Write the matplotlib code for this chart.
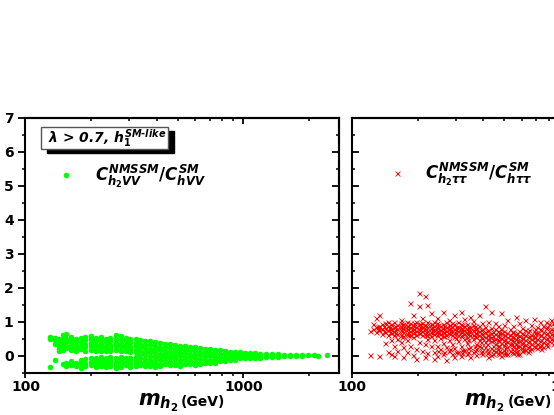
import numpy as np
import matplotlib.pyplot as plt
from matplotlib.patches import Rectangle

#---------------------------------------------- DATA -------------------------------------------
# m_h2 (GeV) columns and the coupling ratios read in each column
green_mass = [130, 136, 142, 148, 154, 161, 170, 179, 188, 199, 210, 221, 233, 245, 259,
              273, 288, 303, 320, 337, 355, 374, 395, 416, 439, 463, 488, 514, 542, 571,
              602, 635, 669, 706, 744, 784, 827, 872, 919, 969, 1021, 1077, 1135, 1197,
              1275, 1358, 1447, 1542, 1643, 1750, 1865, 1987, 2117, 2208, 2428]
green_vals = [
    [0.55, 0.50, -0.32],
    [0.52, 0.45, 0.35, -0.12],
    [0.50, 0.40, 0.30, 0.20, 0.14],
    [0.60, 0.48, 0.38, 0.27, 0.17, -0.25],
    [0.64, 0.50, 0.40, 0.30, 0.22, -0.22, -0.30],
    [0.55, 0.45, 0.35, 0.25, 0.18, -0.15, -0.28],
    [0.50, 0.42, 0.33, 0.22, 0.15, -0.20, -0.30],
    [0.52, 0.40, 0.30, 0.20, -0.12, -0.22, -0.35],
    [0.55, 0.45, 0.35, 0.25, 0.15, -0.10, -0.20, -0.30],
    [0.58, 0.48, 0.38, 0.28, 0.18, -0.08, -0.18, -0.28],
    [0.52, 0.42, 0.32, 0.22, 0.14, -0.06, -0.15, -0.25, -0.33],
    [0.55, 0.45, 0.35, 0.25, 0.15, -0.05, -0.10, -0.20, -0.30],
    [0.50, 0.40, 0.30, 0.20, 0.13, -0.06, -0.15, -0.25, -0.32],
    [0.52, 0.42, 0.32, 0.22, 0.14, -0.05, -0.12, -0.22, -0.30],
    [0.62, 0.48, 0.38, 0.28, 0.18, -0.08, -0.18, -0.28, -0.35],
    [0.58, 0.45, 0.35, 0.25, 0.15, -0.05, -0.12, -0.22, -0.32],
    [0.52, 0.42, 0.32, 0.22, 0.13, -0.08, -0.18, -0.28],
    [0.50, 0.40, 0.30, 0.20, 0.12, -0.06, -0.15, -0.25, -0.33],
    [0.48, 0.38, 0.28, 0.18, 0.10, -0.05, -0.12, -0.22, -0.30],
    [0.45, 0.35, 0.25, 0.15, 0.05, -0.08, -0.18, -0.28],
    [0.44, 0.33, 0.22, 0.12, 0.02, -0.10, -0.20, -0.30],
    [0.42, 0.31, 0.20, 0.10, -0.02, -0.12, -0.22, -0.30],
    [0.40, 0.29, 0.18, 0.08, -0.05, -0.15, -0.25, -0.32],
    [0.38, 0.27, 0.16, 0.06, -0.04, -0.14, -0.24, -0.30],
    [0.36, 0.26, 0.15, 0.05, -0.05, -0.15, -0.25],
    [0.34, 0.23, 0.12, 0.02, -0.08, -0.18, -0.28],
    [0.32, 0.21, 0.10, 0.00, -0.10, -0.20, -0.28],
    [0.30, 0.19, 0.08, -0.02, -0.12, -0.22, -0.30],
    [0.28, 0.17, 0.07, -0.03, -0.13, -0.23],
    [0.27, 0.16, 0.05, -0.05, -0.15, -0.25],
    [0.25, 0.14, 0.03, -0.08, -0.18, -0.26],
    [0.23, 0.12, 0.01, -0.10, -0.20, -0.25],
    [0.21, 0.10, -0.01, -0.12, -0.21],
    [0.19, 0.09, -0.02, -0.12, -0.20],
    [0.17, 0.07, -0.04, -0.14, -0.20],
    [0.16, 0.05, -0.05, -0.15],
    [0.14, 0.04, -0.06, -0.15],
    [0.12, 0.03, -0.06, -0.12],
    [0.11, 0.02, -0.07, -0.12],
    [0.10, 0.01, -0.08],
    [0.09, 0.00, -0.08],
    [0.08, 0.00, -0.07],
    [0.07, -0.01, -0.07],
    [0.06, -0.02, -0.06],
    [0.05, -0.02, -0.05],
    [0.05, -0.01, -0.04],
    [0.04, 0.00, -0.03],
    [0.03, -0.02],
    [0.03, -0.01],
    [0.02, -0.01],
    [0.02, 0.00],
    [0.01],
    [0.01],
    [0.00],
    [0.02],
]

red_mass = [121, 125, 129, 133, 138, 142, 147, 151, 156, 161, 167, 172, 178, 184, 190,
            196, 203, 209, 216, 222, 230, 237, 245, 253, 261, 269, 278, 287, 295, 305,
            316, 326, 337, 348, 359, 371, 383, 396, 409, 422, 435, 451, 466, 481, 497,
            514, 531, 549, 565, 583, 600, 621, 641, 661, 683, 704, 727, 750, 774, 798,
            823, 850]
red_vals = [
    [0.02, 0.72],
    [0.80, 0.92],
    [0.70, 0.85, 1.12],
    [0.75, 0.88, 1.20, 0.00],
    [0.65, 0.78, 0.92],
    [0.70, 0.82, 0.95, 0.38],
    [0.62, 0.75, 0.88, 1.00, 0.12],
    [0.68, 0.80, 0.92, 0.05, 0.45],
    [0.60, 0.72, 0.85, 0.98, 0.30, 0.00],
    [0.65, 0.78, 0.90, 0.50, 0.15],
    [0.62, 0.75, 0.85, 0.95, 1.05, 0.40],
    [0.58, 0.70, 0.82, 0.92, 0.25, -0.05],
    [0.65, 0.78, 0.88, 1.00, 0.45, 0.10],
    [0.60, 0.72, 0.84, 0.95, 1.55, 0.30],
    [0.66, 0.78, 0.90, 1.20, 0.55, 0.02],
    [0.62, 0.74, 0.86, 0.98, 0.20, -0.10],
    [0.68, 0.80, 0.92, 1.45, 1.85, 0.40],
    [0.60, 0.72, 0.84, 0.95, 1.10, 0.15],
    [0.65, 0.78, 0.90, 1.75, 0.35, -0.05],
    [0.62, 0.74, 0.86, 0.98, 1.50, 0.50, 0.08],
    [0.58, 0.70, 0.82, 0.94, 1.25, 0.28],
    [0.65, 0.76, 0.88, 1.00, 0.45, 0.12, -0.10],
    [0.60, 0.72, 0.84, 0.96, 1.12, 0.30, 0.00],
    [0.64, 0.76, 0.88, 0.52, 0.20],
    [0.58, 0.70, 0.82, 0.94, 1.30, 0.38, 0.05],
    [0.62, 0.74, 0.86, 0.98, 0.25, -0.12],
    [0.66, 0.78, 0.90, 1.05, 0.45, 0.15],
    [0.60, 0.72, 0.84, 0.96, 0.35, 0.05],
    [0.56, 0.68, 0.80, 0.92, 1.20, 0.22, -0.05],
    [0.62, 0.74, 0.86, 1.00, 0.42, 0.10],
    [0.58, 0.70, 0.82, 0.94, 1.30, 0.30, 0.00],
    [0.50, 0.64, 0.76, 0.88, 1.08, 0.18],
    [0.56, 0.68, 0.80, 0.92, 0.38, 0.05],
    [0.60, 0.72, 0.84, 1.15, 0.25, -0.05],
    [0.48, 0.62, 0.76, 0.90, 1.02, 0.12],
    [0.55, 0.68, 0.80, 0.35, 0.20, 0.02],
    [0.45, 0.60, 0.74, 0.88, 1.20, 0.28],
    [0.52, 0.65, 0.78, 0.95, 0.15, 0.05],
    [0.40, 0.56, 0.70, 0.84, 1.45, 0.25],
    [0.48, 0.62, 0.76, 1.00, 0.10, -0.05],
    [0.42, 0.55, 0.68, 0.82, 1.30, 0.22, 0.02],
    [0.36, 0.50, 0.64, 0.78, 0.95, 0.15],
    [0.30, 0.45, 0.60, 0.74, 0.88, 0.08, 0.20],
    [0.38, 0.52, 0.66, 0.80, 1.25, 0.12, 0.00],
    [0.32, 0.46, 0.60, 0.74, 0.90, 0.18],
    [0.26, 0.40, 0.54, 0.68, 1.05, 0.05],
    [0.35, 0.48, 0.62, 0.78, 0.15],
    [0.28, 0.42, 0.56, 0.70, 0.88, 0.08],
    [0.22, 0.36, 0.50, 0.64, 1.15, 0.12],
    [0.30, 0.44, 0.58, 0.72, 0.95, 0.05],
    [0.24, 0.38, 0.52, 0.66, 0.82, 0.15],
    [0.18, 0.32, 0.46, 0.60, 0.76, 1.05],
    [0.26, 0.40, 0.54, 0.70, 0.12],
    [0.20, 0.34, 0.48, 0.62, 0.90],
    [0.28, 0.42, 0.56, 0.72, 1.08],
    [0.22, 0.36, 0.50, 0.66, 0.85],
    [0.30, 0.44, 0.60, 0.78, 0.98],
    [0.25, 0.40, 0.55, 0.70, 0.88],
    [0.35, 0.50, 0.65, 0.82, 1.00],
    [0.42, 0.58, 0.74, 0.92],
    [0.48, 0.64, 0.80, 1.05],
    [0.55, 0.70, 0.88],
]

# denser core of the tau-tau cloud, between the columns above
red_core_mass = [131, 140, 149, 158, 169, 181, 193, 206, 219, 233, 249, 265, 282, 300, 321,
                 342, 365, 389, 415, 443, 474, 505, 540, 574, 610, 651, 693, 738, 786, 836]
red_core_vals = [
    [0.78, 0.86],
    [0.74, 0.88],
    [0.70, 0.79, 0.86],
    [0.68, 0.77, 0.88],
    [0.72, 0.81, 0.90, 0.55],
    [0.69, 0.78, 0.87, 0.62],
    [0.70, 0.80, 0.88, 0.95],
    [0.66, 0.75, 0.84, 0.92],
    [0.70, 0.79, 0.88, 0.60],
    [0.68, 0.77, 0.86, 0.94],
    [0.66, 0.74, 0.82, 0.91, 0.15],
    [0.70, 0.79, 0.88, 0.58, 0.10],
    [0.64, 0.73, 0.82, 0.90, 0.20],
    [0.66, 0.75, 0.84, 0.52, 0.12],
    [0.62, 0.72, 0.80, 0.90, 0.18, 0.08],
    [0.64, 0.74, 0.84, 0.45, 0.22, 0.10],
    [0.58, 0.68, 0.78, 0.88, 0.30, 0.15],
    [0.55, 0.66, 0.76, 0.40, 0.25, 0.10],
    [0.50, 0.62, 0.74, 0.35, 0.20, 0.08],
    [0.46, 0.58, 0.70, 0.30, 0.18, 0.06],
    [0.42, 0.55, 0.68, 0.28, 0.14, 0.05],
    [0.38, 0.50, 0.62, 0.22, 0.12, 0.04],
    [0.34, 0.46, 0.58, 0.70, 0.20, 0.10],
    [0.30, 0.42, 0.55, 0.68, 0.15, 0.06],
    [0.28, 0.40, 0.52, 0.64, 0.18],
    [0.30, 0.44, 0.58, 0.76, 0.16],
    [0.26, 0.40, 0.54, 0.68, 0.80],
    [0.32, 0.46, 0.62, 0.75, 0.20],
    [0.38, 0.52, 0.68, 0.85, 0.28],
    [0.45, 0.60, 0.76, 0.95, 0.35],
]

x_major = [100, 1000]
x_minor = [200, 300, 400, 500, 600, 700, 800, 900, 2000]
y_major = [0, 1, 2, 3, 4, 5, 6, 7]
y_minor = [-0.5, 0.5, 1.5, 2.5, 3.5, 4.5, 5.5, 6.5]

#---------------------------------------------- STYLE ------------------------------------------
plt.rcParams['font.family'] = 'DejaVu Sans'
plt.rcParams['font.weight'] = 'bold'
plt.rcParams['mathtext.fontset'] = 'custom'
plt.rcParams['mathtext.it'] = 'DejaVu Sans:italic:bold'
plt.rcParams['mathtext.rm'] = 'DejaVu Sans:bold'
plt.rcParams['mathtext.bf'] = 'DejaVu Sans:bold'


def flat(mass, vals):
    xs = [m for m, vs in zip(mass, vals) for v in vs]
    ys = [v for vs in vals for v in vs]
    return xs, ys


def style_axes(ax, ylabels):
    ax.set_xscale('log')
    ax.set_xlim(100, 2750)
    ax.set_ylim(-0.5, 7)
    for s in ax.spines.values():
        s.set_linewidth(1.5)
    # bottom / left : ticks outward
    ax.set_xticks(x_major)
    ax.set_xticks(x_minor, minor=True)
    ax.set_xticklabels(['100', '1000'])
    ax.set_xticklabels([], minor=True)
    ax.set_yticks(y_major)
    ax.set_yticks(y_minor, minor=True)
    if ylabels:
        ax.set_yticklabels([str(v) for v in y_major])
    else:
        ax.set_yticklabels([])
    ax.tick_params(axis='x', which='major', direction='out', length=3.5, width=1.3,
                   labelsize=10, pad=2)
    ax.tick_params(axis='x', which='minor', direction='out', length=2, width=1.1)
    ax.tick_params(axis='y', which='major', direction='out', length=5, width=1.3,
                   labelsize=10, pad=3.5)
    ax.tick_params(axis='y', which='minor', direction='out', length=2.5, width=1.1)
    if not ylabels:
        ax.tick_params(axis='y', which='both', direction='in')
    # top / right : ticks inward, no labels
    top = ax.secondary_xaxis('top')
    top.set_xticks(x_major)
    top.set_xticks(x_minor, minor=True)
    top.set_xticklabels([])
    top.set_xticklabels([], minor=True)
    top.tick_params(which='major', direction='in', length=4, width=1.3)
    top.tick_params(which='minor', direction='in', length=2.5, width=1.1)
    top.spines['top'].set_linewidth(1.5)
    right = ax.secondary_yaxis('right')
    right.set_yticks(y_major)
    right.set_yticks(y_minor, minor=True)
    right.set_yticklabels([])
    right.tick_params(which='major', direction='in', length=5, width=1.3)
    right.tick_params(which='minor', direction='in', length=2.5, width=1.1)
    right.spines['right'].set_linewidth(1.5)


#---------------------------------------------- MAIN -------------------------------------------
fig = plt.figure(figsize=(5.54, 4.15), dpi=100)
ax1 = fig.add_axes([0.046, 0.1019, 0.566, 0.6138])
ax2 = fig.add_axes([0.6354, 0.1019, 0.566, 0.6138])

gx, gy = flat(green_mass, green_vals)
rx, ry = flat(red_mass, red_vals)
rcx, rcy = flat(red_core_mass, red_core_vals)

ax1.plot(gx, gy, 'o', color='#00ff00', ms=4, mew=0, clip_on=False)
ax2.plot(rx + rcx, ry + rcy, 'x', color='#ff0000', ms=3.6, mew=0.6)

style_axes(ax1, True)
style_axes(ax2, False)

# boxed label with shadow
ax1.add_patch(Rectangle((0.068, 0.863), 0.405, 0.086, transform=ax1.transAxes,
                        facecolor='black', edgecolor='black', zorder=4))
ax1.add_patch(Rectangle((0.050, 0.878), 0.405, 0.087, transform=ax1.transAxes,
                        facecolor='white', edgecolor='#555555', lw=1.0, zorder=5))
ax1.text(0.072, 0.92, r'$\lambda$ > 0.7, $h_1^{SM\text{-}like}$', transform=ax1.transAxes,
         fontsize=10, fontstyle='italic', va='center', ha='left', zorder=6)

# legend entries
ax1.plot([0.129], [0.776], 'o', color='#00ff00', ms=4, mew=0, transform=ax1.transAxes)
ax1.text(0.222, 0.772, r'$C^{NMSSM}_{h_2VV}/C^{SM}_{hVV}$', transform=ax1.transAxes,
         fontsize=12, va='center', ha='left')
ax2.plot([0.143], [0.784], 'x', color='#ff0000', ms=3.6, mew=0.6, transform=ax2.transAxes)
ax2.text(0.232, 0.778, r'$C^{NMSSM}_{h_2\tau\tau}/C^{SM}_{h\tau\tau}$', transform=ax2.transAxes,
         fontsize=12, va='center', ha='left')

# x labels
for off in [0, 326.5]:
    fig.text((178 + off) / 554, 0.022, r'$m_{h_2}$', fontsize=15, ha='right', va='baseline')
    fig.text((181 + off) / 554, 0.022, '(GeV)', fontsize=10, ha='left', va='baseline')

fig.savefig('out.png', dpi=100)
